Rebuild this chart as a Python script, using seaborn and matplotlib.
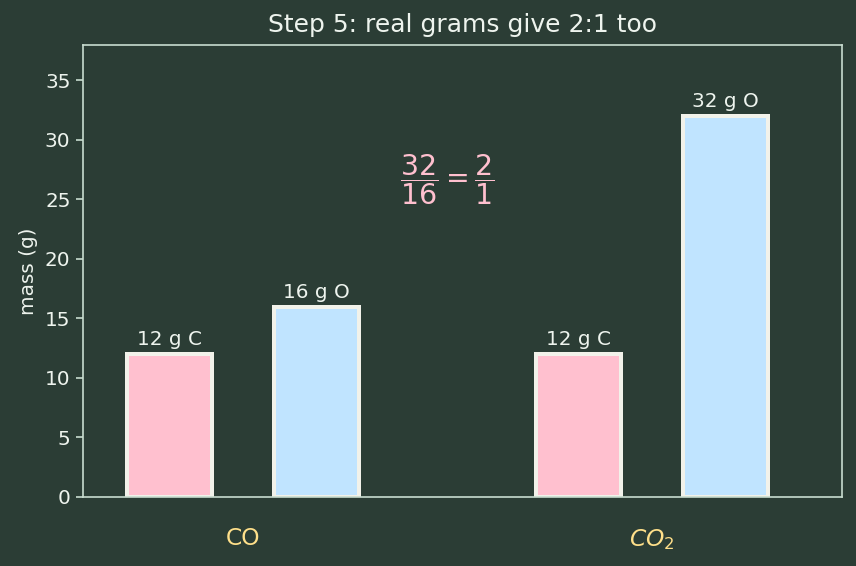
import matplotlib
matplotlib.use("Agg")
import matplotlib.pyplot as plt
import seaborn as sns
import pandas as pd

compounds = ["CO", "CO2"]
tick_labels = ["CO", "$CO_2$"]
elements = ["C", "O"]
carbon_mass = [12, 12]
oxygen_mass = [16, 32]

bg = "#2b3d35"
fg = "#eef4ee"
spine = "#c8dccf"

sns.set_theme(style="dark")
plt.rcParams["font.family"] = ["DejaVu Sans"]

df = pd.DataFrame({
    "compound": compounds * 2,
    "element": ["C"] * 2 + ["O"] * 2,
    "mass": carbon_mass + oxygen_mass,
})

DPI = 120
fig, ax = plt.subplots(figsize=(856 / DPI, 566 / DPI), dpi=DPI)
fig.patch.set_facecolor(bg)
ax.set_facecolor(bg)

sns.barplot(data=df, x="compound", y="mass", hue="element", order=compounds,
            hue_order=elements, palette={"C": "#ffc0cf", "O": "#c0e4ff"},
            saturation=1, width=0.72, gap=0.42, edgecolor="#f2f2ea", linewidth=2.4,
            legend=False, ax=ax, errorbar=None)

labels = {"C": [f"{m} g C" for m in carbon_mass], "O": [f"{m} g O" for m in oxygen_mass]}
for cont, el in zip(ax.containers, elements):
    ax.bar_label(cont, labels=labels[el], padding=3, color=fg, fontsize=12)

ax.set_ylim(0, 38)
ax.set_xlim(-0.392, 1.466)
ax.set_xticks([0, 1])
ax.set_xticklabels(tick_labels, color="#ffe08a", fontsize=14)
ax.tick_params(axis="x", length=0, pad=18)
ax.tick_params(axis="y", colors=spine, labelcolor=fg, labelsize=12, length=4, width=1, left=True)
ax.set_yticks([0, 5, 10, 15, 20, 25, 30, 35])
ax.set_xlabel("")
ax.set_ylabel("mass (g)", color=fg, fontsize=12)
ax.set_title("Step 5: real grams give 2:1 too", color=fg, fontsize=15, pad=7.5)
ax.grid(False)
for s in ax.spines.values():
    s.set_visible(True)
    s.set_color(spine)
    s.set_linewidth(1.0)

ax.text(0.5, 26.7, r"$\dfrac{32}{16}=\dfrac{2}{1}$", color="#ffc0cf", fontsize=17,
        ha="center", va="center")

fig.subplots_adjust(left=0.097, right=0.984, top=0.921, bottom=0.122)
fig.savefig("out.png", dpi=DPI, facecolor=bg)
